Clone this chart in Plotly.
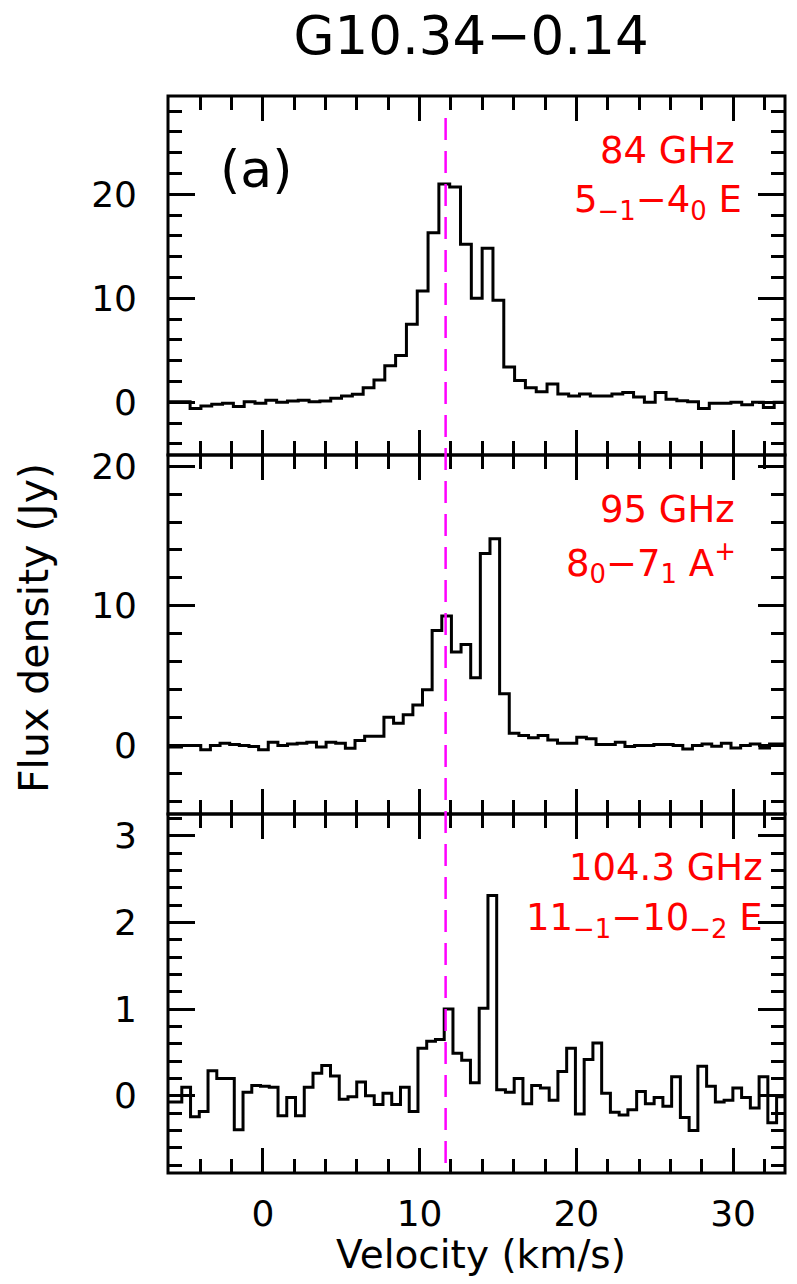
import numpy as np
import plotly.graph_objects as go
from plotly.subplots import make_subplots

# channel grids: centre of first channel and channel width (km/s)
v0_84, dv_84 = -6.365, 0.69
v0_95, dv_95 = -6.1125, 0.615
v0_104, dv_104 = -6.565, 0.558
v_lsr = 11.66

flux_84 = [0.05, 0.05, 0.05, -0.6, -0.35, -0.2, -0.1, -0.4, 0.05, -0.1,
           0.2, 0.0, 0.13, 0.2, 0.05, 0.13, 0.38, 0.6, 0.77, 1.4,
           2.15, 3.5, 4.5, 7.5, 10.7, 16.3, 21.0, 20.7, 15.2, 10.0,
           14.8, 9.8, 3.4, 2.1, 1.4, 1.0, 1.75, 0.8, 0.6, 0.8,
           0.6, 0.6, 0.8, 0.93, 0.5, 0.0, 0.93, 0.3, 0.15, 0.06,
           -0.6, -0.1, -0.1, 0.0, -0.25, 0.0, -0.5, 0.0, 0.0, 0.0]

flux_95 = [-0.1, -0.1, 0.0, 0.0, -0.3, 0.0, 0.17, 0.07, 0.0, -0.07,
           -0.3, 0.24, 0.0, 0.12, 0.17, 0.24, -0.1, 0.24, 0.17, -0.2,
           0.36, 0.67, 0.67, 2.03, 1.6, 2.2, 2.9, 4.0, 8.24, 9.27,
           6.7, 7.24, 4.85, 13.74, 14.8, 3.7, 0.88, 0.72, 0.55, 0.72,
           0.4, 0.17, 0.17, 0.6, 0.48, 0.07, 0.07, 0.24, -0.07, 0.0,
           0.0, 0.07, 0.07, 0.0, -0.24, 0.0, 0.12, -0.05, 0.17, -0.17,
           0.0, 0.12, -0.17, 0.12, 0.12, 0.1, 0.1]

flux_104 = [-0.07, -0.07, -0.07, 0.1, -0.24, -0.18, 0.29, 0.2, 0.2, -0.39,
            0.04, 0.12, 0.11, 0.1, -0.23, -0.02, -0.23, 0.1, 0.26, 0.35,
            0.23, -0.04, -0.01, 0.16, 0.0, -0.1, 0.03, -0.1, 0.1, -0.18,
            0.55, 0.63, 0.65, 1.0, 0.49, 0.41, 0.15, 1.01, 2.31, 0.07,
            0.04, 0.2, -0.09, 0.12, 0.09, -0.05, 0.28, 0.55, -0.21, 0.42,
            0.61, 0.03, -0.19, -0.22, -0.16, 0.05, -0.09, -0.02, -0.12, 0.22,
            -0.25, -0.4, 0.34, 0.11, -0.07, -0.05, 0.09, -0.02, -0.14, 0.22,
            -0.31, -0.01, 0.35, 0.35]

spectra = [(v0_84, dv_84, flux_84), (v0_95, dv_95, flux_95), (v0_104, dv_104, flux_104)]
x_range = [-6.05, 33.31]
y_ranges = [[-5.07, 29.45], [-4.9, 20.8], [-0.89, 3.25]]
y_dticks = [(10, 2), (10, 2), (1, 0.2)]
line_labels = [("84 GHz", "5<sub>−1</sub>−4<sub>0</sub> E"),
               ("95 GHz", "8<sub>0</sub>−7<sub>1</sub> A<sup>+</sup>"),
               ("104.3 GHz", "11<sub>−1</sub>−10<sub>−2</sub> E")]

FONT = "DejaVu Sans"
OFF = 8  # page body margin: figure origin sits at (8, 8) in the window
W, H = 779, 1268
L, R, T = 160, 2, 88
B = H - (1173 - OFF)
pw, ph = W - L - R, H - T - B


def px(x):
    # window pixel -> paper x
    return (x - OFF - L) / pw


def py(y):
    # window pixel -> paper y
    return (H - B - (y - OFF)) / ph


fig = make_subplots(rows=3, cols=1, shared_xaxes=True, vertical_spacing=0)

for i, (v0, dv, flux) in enumerate(spectra):
    vel = v0 + dv * np.arange(len(flux))
    fig.add_trace(go.Scatter(x=vel, y=flux, mode="lines",
                             line=dict(color="black", width=3, shape="hvh"),
                             showlegend=False, hoverinfo="skip"),
                  row=i + 1, col=1)

axis_common = dict(showline=False, mirror="allticks", automargin=False,
                   ticks="inside", tickwidth=3, tickcolor="black", showgrid=False,
                   zeroline=False, tickfont=dict(family=FONT, size=36, color="black"))

for i in range(3):
    major, minor = y_dticks[i]
    fig.update_yaxes(range=y_ranges[i], tick0=0, dtick=major, ticklen=27,
                     ticklabelstandoff=30,
                     minor=dict(dtick=minor, tick0=0, ticklen=14, tickwidth=3,
                                tickcolor="black", ticks="inside"),
                     row=i + 1, col=1, **axis_common)
    fig.update_xaxes(range=x_range, tick0=0, dtick=10, ticklen=25,
                     ticklabelstandoff=16, showticklabels=(i == 2),
                     minor=dict(dtick=2, tick0=0, ticklen=14, tickwidth=3,
                                tickcolor="black", ticks="inside"),
                     row=i + 1, col=1, **axis_common)

# panel frames
for i in range(3):
    sfx = "" if i == 0 else str(i + 1)
    fig.add_shape(type="rect", xref="x" + sfx + " domain", yref="y" + sfx + " domain",
                  x0=0, x1=1, y0=0, y1=1, layer="above",
                  line=dict(color="black", width=3))

# systemic velocity marker
fig.add_shape(type="line", xref="x3", yref="paper", x0=v_lsr, x1=v_lsr,
              y0=py(1163), y1=py(109),
              line=dict(color="#ff00ff", width=2.5, dash="22px,11px"))

ann = []
# red line labels: (right edge px, cap centre px) for each row, window pixels
pos = [((737, 150), (744, 202)), ((737, 510), (738, 562)), ((765, 867), (765, 920))]
for (t1, t2), ((x1, y1), (x2, y2)) in zip(line_labels, pos):
    ann.append(dict(text=t1, x=px(x1), y=py(y1), xanchor="right", yanchor="middle"))
    ann.append(dict(text=t2, x=px(x2), y=py(y2), xanchor="right", yanchor="middle"))
for a in ann:
    a.update(xref="paper", yref="paper", showarrow=False,
             font=dict(family=FONT, size=37, color="#ff0000"))

ann.append(dict(text="(a)", x=px(256), y=py(169), xref="paper", yref="paper",
                showarrow=False, xanchor="center", yanchor="middle",
                font=dict(family=FONT, size=52, color="black")))
ann.append(dict(text="Flux density (Jy)", x=px(34), y=py(628), xref="paper", yref="paper",
                showarrow=False, xanchor="center", yanchor="middle", textangle=-90,
                font=dict(family=FONT, size=41, color="black")))
ann.append(dict(text="Velocity (km/s)", x=px(481), y=py(1255), xref="paper", yref="paper",
                showarrow=False, xanchor="center", yanchor="middle",
                font=dict(family=FONT, size=39, color="black")))

fig.update_layout(
    width=W, height=H,
    margin=dict(l=L, r=R, t=T, b=B, autoexpand=False),
    paper_bgcolor="white", plot_bgcolor="white",
    title=dict(text="G10.34−0.14", x=px(471), xref="paper", xanchor="center",
               y=1 - (35 - OFF) / H, yref="container", yanchor="middle",
               font=dict(family=FONT, size=53, color="black")),
    annotations=ann,
)

fig.write_html("out.html")
